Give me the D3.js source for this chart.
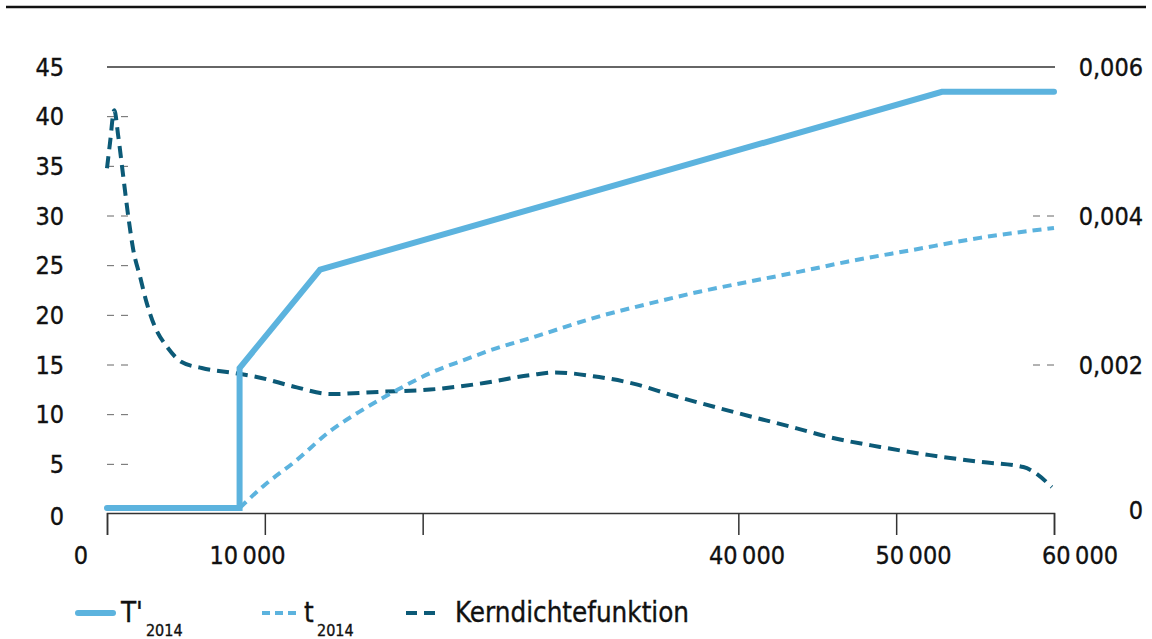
<!DOCTYPE html>
<html><head><meta charset="utf-8">
<script src="https://cdn.jsdelivr.net/npm/d3@7"></script>
<style>
html,body{margin:0;padding:0;background:#fff;}
svg{display:block;font-family:"DejaVu Sans","Noto Sans",sans-serif;font-stretch:condensed;}
svg text{stroke:#111;stroke-width:0.35px;}
</style></head>
<body><svg id="c" width="1152" height="639"></svg>
<script>
// ---- data ----
const tPrimeX = [0, 8400, 8400, 13500, 52900, 60000];
const tPrimeY = [0.6, 0.6, 14.7, 24.6, 42.5, 42.5];

const tAvgX = [8400, 9900, 12000, 14100, 16200, 18400, 20500, 22600, 24700, 26800, 31200, 34400, 37600, 40700, 43900, 46900, 51100, 55300, 60000];
const tAvgY = [0.6, 2.8, 5.4, 8.3, 10.5, 12.5, 14.2, 15.5, 16.7, 17.7, 19.9, 21.2, 22.4, 23.4, 24.4, 25.4, 26.6, 27.8, 28.8];

const kernX = [0, 190, 460, 720, 1030, 1350, 1670, 2090, 2520, 3040, 3780, 4730, 6000, 8110, 9490, 12020, 14130, 17300, 20470, 23640, 27010, 28390, 30810, 33350, 35880, 39690, 43700, 45810, 48980, 52140, 55310, 58060, 58690, 59860];
const kernY = [0.00464, 0.00498, 0.00542, 0.00506, 0.00453, 0.00399, 0.00354, 0.00319, 0.00283, 0.00251, 0.00225, 0.00204, 0.00196, 0.00189, 0.00184, 0.00170, 0.00161, 0.00164, 0.00167, 0.00175, 0.00187, 0.00190, 0.00185, 0.00175, 0.00159, 0.00137, 0.00115, 0.00103, 0.00090, 0.00079, 0.00070, 0.00063, 0.00057, 0.00036];

const xTickValues = [0, 10000, 20000, 40000, 50000, 60000];
const xLabelValues = [0, 10000, 40000, 50000, 60000];
const xLabelTexts = ["0", "10\u202F000", "40\u202F000", "50\u202F000", "60\u202F000"];
const yLeftTicks = [0, 5, 10, 15, 20, 25, 30, 35, 40, 45];
const yRightTicks = [0, 0.002, 0.004, 0.006];
const yRightTexts = ["0", "0,002", "0,004", "0,006"];
const legendNames = ["T'", "t", "Kerndichtefunktion"];
const legendSubs = ["2014", "2014", ""];

// ---- setup ----
const svg = d3.select("#c");
const LIGHT = "#5cb3de", DARK = "#0c5a77";

const x = d3.scaleLinear().domain([0, 60000]).range([107, 1054]);
const xLab = d3.scaleLinear().domain([0, 60000]).range([81, 1080]);
const yL = d3.scaleLinear().domain([0, 45]).range([514, 67]);
const yR = d3.scaleLinear().domain([0, 0.006]).range([514, 67]);

// top rule
svg.append("line").attr("x1", 6).attr("x2", 1146).attr("y1", 7).attr("y2", 7)
  .attr("stroke", "#111").attr("stroke-width", 2.5);

// top gridline at 45
svg.append("line").attr("x1", x(0)).attr("x2", x(60000) + 1)
  .attr("y1", yL(45)).attr("y2", yL(45)).attr("stroke", "#333").attr("stroke-width", 1.4);

// left dashed tick marks
svg.selectAll(".ldash").data(yLeftTicks.filter(d => d > 0 && d < 45)).join("line")
  .attr("x1", x(0)).attr("x2", x(0) + 21)
  .attr("y1", d => yL(d)).attr("y2", d => yL(d))
  .attr("stroke", "#666").attr("stroke-width", 1).attr("stroke-dasharray", "7,7");

// right dashed tick marks
svg.selectAll(".rdash").data(yRightTicks.filter(d => d > 0 && d < 0.006)).join("line")
  .attr("x1", x(60000) - 21).attr("x2", x(60000) + 1)
  .attr("y1", d => yR(d)).attr("y2", d => yR(d))
  .attr("stroke", "#666").attr("stroke-width", 1).attr("stroke-dasharray", "7,7");

// left labels
const gL = svg.append("g").attr("transform", "translate(64,0)")
  .call(d3.axisLeft(yL).tickValues(yLeftTicks).tickSize(0).tickPadding(0).tickFormat(d3.format("d")));
gL.select(".domain").remove();
gL.selectAll("text").attr("font-size", 25).attr("fill", "#111")
  .attr("font-family", "DejaVu Sans").style("font-stretch", "condensed");
gL.selectAll(".tick").filter(d => d === 0).select("text").attr("dy", "0.42em");

// right labels
svg.selectAll(".rlab").data(yRightTicks).join("text")
  .attr("x", 1143).attr("y", d => yR(d)).attr("dy", d => d === 0 ? "0.2em" : "0.35em")
  .attr("text-anchor", "end").attr("font-size", 25).attr("fill", "#111")
  .text((d, i) => yRightTexts[i]);

// x axis
const gX = svg.append("g").attr("transform", `translate(0,${yL(0) - 1})`)
  .call(d3.axisBottom(x).tickValues(xTickValues).tickSize(22).tickSizeOuter(22).tickFormat(""));
gX.select(".domain").attr("stroke", "#333").attr("stroke-width", 1.5);
gX.selectAll(".tick line").attr("stroke", "#333").attr("stroke-width", 1.5);

svg.selectAll(".xlab").data(xLabelValues).join("text")
  .attr("x", d => xLab(d)).attr("y", 555).attr("dy", "0.35em")
  .attr("text-anchor", "middle").attr("font-size", 25).attr("fill", "#111")
  .text((d, i) => xLabelTexts[i]);

// lines
const lineL = d3.line().x(d => x(d[0])).y(d => yL(d[1]));
const lineR = d3.line().x(d => x(d[0])).y(d => yR(d[1])).curve(d3.curveMonotoneX);
const lineLc = d3.line().x(d => x(d[0])).y(d => yL(d[1])).curve(d3.curveMonotoneX);

svg.append("path").datum(kernX.map((v, i) => [v, kernY[i]]))
  .attr("d", lineR).attr("fill", "none").attr("stroke", DARK)
  .attr("stroke-width", 4).attr("stroke-dasharray", "12,7");

svg.append("path").datum(tAvgX.map((v, i) => [v, tAvgY[i]]))
  .attr("d", lineLc).attr("fill", "none").attr("stroke", LIGHT)
  .attr("stroke-width", 4).attr("stroke-dasharray", "9,6");

svg.append("path").datum(tPrimeX.map((v, i) => [v, tPrimeY[i]]))
  .attr("d", lineL).attr("fill", "none").attr("stroke", LIGHT)
  .attr("stroke-width", 6).attr("stroke-linecap", "round").attr("stroke-linejoin", "miter");

// legend
const legX = [78, 262, 406];
const legW = [35, 35, 31];
const legStyle = [
  {c: LIGHT, w: 6, dash: null},
  {c: LIGHT, w: 4, dash: "8,5"},
  {c: DARK, w: 4, dash: "11,7"}
];
const legTextX = [121, 304, 455];
legendNames.forEach((name, i) => {
  const l = svg.append("line").attr("x1", legX[i]).attr("x2", legX[i] + legW[i])
    .attr("y1", 613).attr("y2", 613).attr("stroke", legStyle[i].c).attr("stroke-width", legStyle[i].w);
  if (legStyle[i].dash) l.attr("stroke-dasharray", legStyle[i].dash);
  else l.attr("stroke-linecap", "round");
  const t = svg.append("text").attr("x", legTextX[i]).attr("y", 622)
    .attr("font-size", 27.5).attr("fill", "#111").text(name);
  if (legendSubs[i]) {
    const bb = t.node().getBBox();
    svg.append("text").attr("x", bb.x + bb.width + 3).attr("y", 636)
      .attr("font-size", 16).attr("fill", "#111").text(legendSubs[i]);
  }
});
</script>
</body></html>
